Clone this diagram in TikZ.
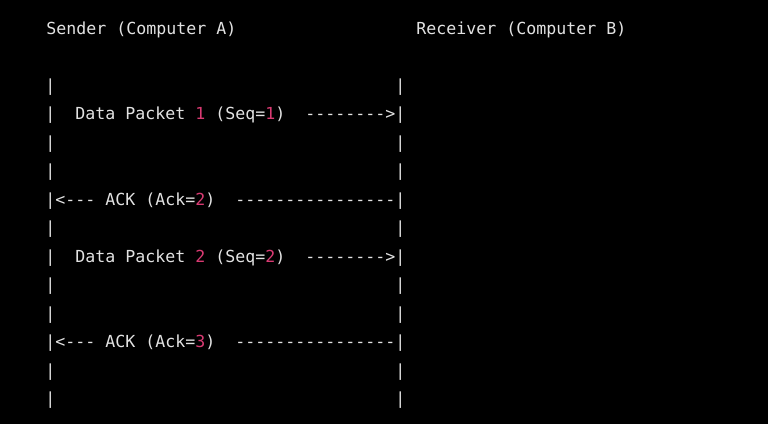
\documentclass[tikz,border=0pt]{standalone}
\usepackage{fontspec}
\setmonofont{DejaVu Sans Mono}
\definecolor{codetext}{HTML}{E2E2E2}
\definecolor{codenum}{HTML}{D93A72}
\newcommand\seqnum[1]{\textcolor{codenum}{#1}}
\begin{document}
\begin{tikzpicture}[x=0.5pt,y=-0.5pt,
    txt/.style={anchor=base west,inner sep=0pt,text=codetext,
      font=\ttfamily\fontsize{8.3}{10}\selectfont}]
  \fill[black] (0,0) rectangle (768,424);
  \useasboundingbox (0,0) rectangle (768,424);
  % column c, line k  ->  (45+10c, 34+28.5k)
  \node[txt] (sender) at (46,34) {Sender (Computer A)};
  \node[txt] (receiver) at (416,34) {Receiver (Computer B)};
  \foreach \k in {2,...,13} {
    \node[txt] (left\k) at (45,{34+28.5*\k}) {|};
    \node[txt] (right\k) at (395,{34+28.5*\k}) {|};
  }
  \foreach \p/\k/\a/\n in {1/3/6/2, 2/8/11/3} {
    \node[txt] (pkt\p) at (75,{34+28.5*\k}) {Data Packet \seqnum{\p} (Seq=\seqnum{\p})};
    \node[txt] (send\p) at (305,{34+28.5*\k}) {-------->};
    \node[txt] (ackhead\p) at (55,{34+28.5*\a}) {<---};
    \node[txt] (ack\p) at (105,{34+28.5*\a}) {ACK (Ack=\seqnum{\n})};
    \node[txt] (acktail\p) at (235,{34+28.5*\a}) {----------------};
  }
\end{tikzpicture}
\end{document}
